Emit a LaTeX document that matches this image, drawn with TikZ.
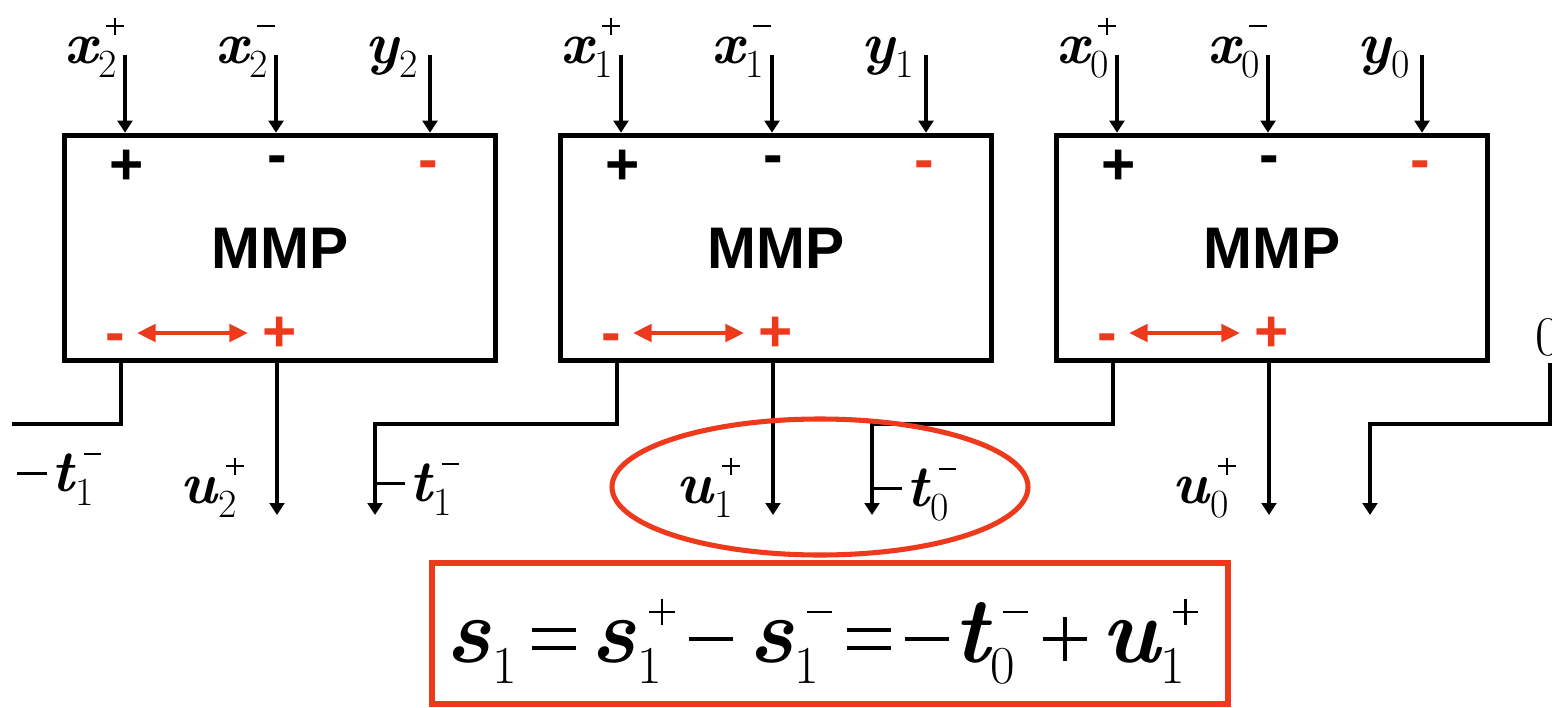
\documentclass[tikz,border=0pt]{standalone}
\usepackage{fontspec}
\newfontfamily\arb{Liberation Sans}
\usetikzlibrary{arrows.meta,shapes.geometric,calc}
\definecolor{myred}{RGB}{238,58,28}
% rule-drawn plus and minus: width, thickness (centred at half the width above the baseline)
\newcommand\Rplus[2]{\ooalign{\rule[\dimexpr(#1-#2)/2\relax]{#1}{#2}\cr\hspace{\dimexpr(#1-#2)/2\relax}\rule{#2}{#1}\cr}}
\newcommand\Rminus[2]{\rule[\dimexpr(#1-#2)/2\relax]{#1}{#2}}
\newcommand\Req[3]{\ooalign{\rule[#3]{#1}{#2}\cr\rule[\dimexpr#3+#1*2/5\relax]{#1}{#2}\cr}}
\newcommand\SP{\Rplus{13pt}{1.4pt}}
\newcommand\SM{\Rminus{13pt}{1.4pt}}
\newcommand\FP{\Rplus{19pt}{2pt}}
\newcommand\FM{\Rminus{19pt}{2pt}}
% label: letter, superscript, subscript
\newcommand\LL[3]{{\fontsize{44}{44}\selectfont\bfseries\itshape #1}\kern1pt\ooalign{\raisebox{21pt}{\hspace{6pt}#2}\cr\raisebox{-11pt}{\fontsize{30}{30}\selectfont #3}\cr}}
\newcommand\FL[3]{{\fontsize{70}{70}\selectfont\bfseries\itshape #1}\kern1pt\ooalign{\raisebox{28pt}{\hspace{9pt}#2}\cr\raisebox{-16pt}{\fontsize{40}{40}\selectfont #3}\cr}}
\newcommand\NM{\rule[12pt]{22pt}{2pt}\kern4pt}
\newcommand\FMI{\rule[16pt]{33pt}{3pt}}
\newcommand\FO[1]{\hspace{11pt}#1\hspace{11pt}}
\begin{document}
\begin{tikzpicture}[x=0.75pt,y=-0.75pt,
  mmp/.style={draw, line width=4.2pt, minimum width=323pt, minimum height=168.75pt, inner sep=0pt,
    font=\arb\bfseries\fontsize{44}{44}\selectfont},
  sgn/.style={inner sep=0pt, font=\arb\bfseries\fontsize{44}{44}\selectfont},
  lab/.style={inner sep=0pt},
  inarr/.style={line width=2.4pt, -{Triangle[length=9pt,width=11pt]}},
  outline/.style={line width=2.4pt},
  outarr/.style={line width=2.4pt, -{Triangle[length=9pt,width=11pt]}},
  redarr/.style={myred, line width=3pt, {Triangle[length=14pt,width=13pt]}-{Triangle[length=14pt,width=13pt]}}]
\useasboundingbox (0,0) rectangle (1552,707);
\fill[white] (0,0) rectangle (1552,707);

\foreach \b/\c/\i in {b1/280/2, b2/776/1, b3/1272/0} {
  \node[mmp] (\b) at (\c,248) {MMP};
  % inputs
  \coordinate (\b-ia) at (\c-155,55);
  \coordinate (\b-ib) at (\c-4,55);
  \coordinate (\b-ic) at (\c+150,55);
  \draw[inarr] (\b-ia) -- (\b-ia |- \b.north);
  \draw[inarr] (\b-ib) -- (\b-ib |- \b.north);
  \draw[inarr] (\b-ic) -- (\b-ic |- \b.north);
  \node[lab, anchor=base east] (\b-la) at (\c-156,63) {\LL{x}{\SP}{\i}};
  \node[lab, anchor=base east] (\b-lb) at (\c-5,63) {\LL{x}{\SM}{\i}};
  \node[lab, anchor=base east] (\b-lc) at (\c+138,63) {\LL{y}{}{\i}};
  % signs
  \node[sgn] (\b-s1) at (\c-153,167) {+};
  \node[sgn] (\b-s2) at (\c-3,165) {-};
  \node[sgn, text=myred] (\b-s3) at (\c+148,170) {-};
  \node[sgn, text=myred] (\b-s4) at (\c-165,343) {-};
  \node[sgn, text=myred] (\b-s5) at (\c,334) {+};
  \coordinate (\b-al) at (\c-143,333);
  \coordinate (\b-ar) at (\c-32,333);
  \draw[redarr] (\b-al) -- (\b-ar);
  % outputs
  \coordinate (\b-om) at (\c-159,424);
  \coordinate (\b-op) at (\c-3,515);
  \draw[outarr] (\b-op |- \b.south) -- (\b-op);
  \node[lab, anchor=base east] (\b-lu) at (\c-36,503) {\LL{u}{\SP}{\i}};
}

% borrow connections
\coordinate (l0) at (12,424);
\draw[outline] (b1-om |- b1.south) -- (b1-om) -- (l0);
\coordinate (c1) at (375,424);
\coordinate (e1) at (375,515);
\draw[outarr] (b2-om |- b2.south) -- (b2-om) -- (c1) -- (e1);
\coordinate (c0) at (872,424);
\coordinate (e0) at (872,515);
\draw[outarr] (b3-om |- b3.south) -- (b3-om) -- (c0) -- (e0);
\node[lab, anchor=west] (zero) at (1535,337) {\fontsize{42}{42}\selectfont 0};
\coordinate (zt) at (1550,363);
\coordinate (zc) at (1550,424);
\coordinate (zm) at (1370,424);
\coordinate (ze) at (1370,515);
\draw[outarr] (zt) -- (zc) -- (zm) -- (ze);

% t labels
\node[lab, anchor=base west] (tl) at (17,491) {\NM\LL{t}{\SM}{1}};
\node[lab, anchor=base west] (t1) at (e1 |- 0,501) {\NM\LL{t}{\SM}{1}};
\node[lab, anchor=base west] (t0) at (e0 |- 0,506) {\NM\LL{t}{\SM}{0}};

% highlight
\node[draw=myred, line width=3.8pt, ellipse, minimum width=312pt, minimum height=102pt, inner sep=0pt] (ell) at (820,487) {};
\node[draw=myred, line width=4.8pt, minimum width=597pt, minimum height=106pt, inner sep=0pt] (fb) at (830,633.5) {};
\node[lab, anchor=base] (fm) at (822,662) {\FL{s}{}{1}\FO{\Req{33pt}{3.2pt}{9pt}}\FL{s}{\FP}{1}\FO{\FMI}\FL{s}{\FM}{1}\FO{\Req{33pt}{3.2pt}{9pt}}\FMI\kern3pt\FL{t}{\FM}{0}\FO{\raisebox{1pt}{\Rplus{33pt}{3pt}}}\FL{u}{\FP}{1}};
\end{tikzpicture}
\end{document}
